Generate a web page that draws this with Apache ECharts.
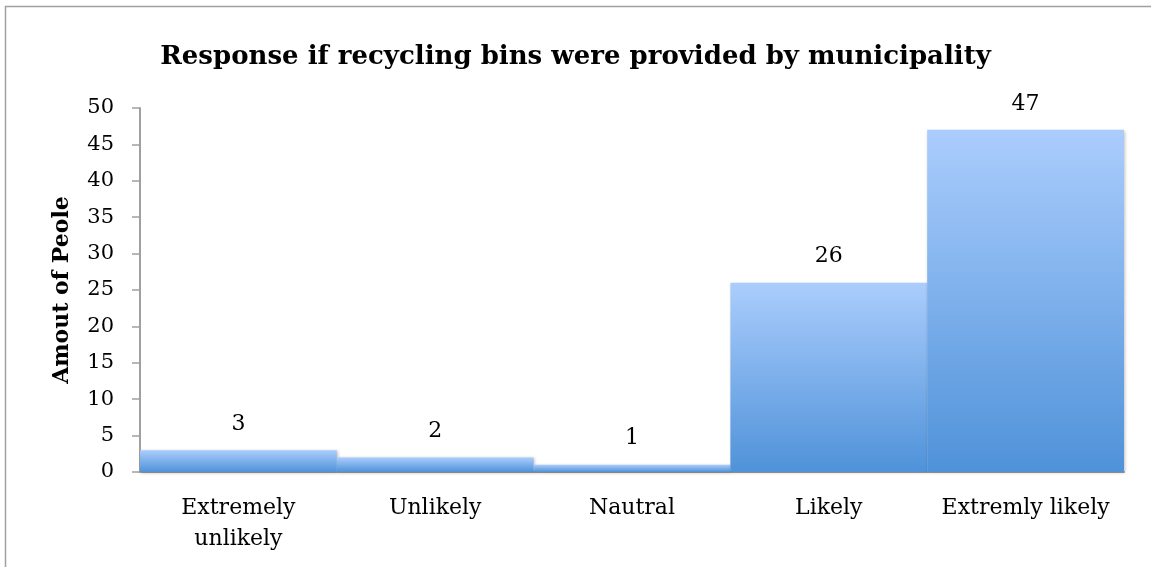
<!DOCTYPE html>
<html>
<head>
<meta charset="utf-8">
<title>Response if recycling bins were provided by municipality</title>
<script src="https://cdn.jsdelivr.net/npm/echarts@6/dist/echarts.min.js"></script>
<style>
  html, body { margin: 0; padding: 0; background: #fff; }
  #chart { width: 1151px; height: 567px; }
</style>
</head>
<body>
<div id="chart"></div>
<script>
// Survey responses
const categories = ['Extremely\nunlikely', 'Unlikely', 'Nautral', 'Likely', 'Extremly likely'];
const counts = [3, 2, 1, 26, 47];
const yTicks = { min: 0, max: 50, interval: 5 };

const FONT = '"DejaVu Serif", "Liberation Serif", serif';

const chart = echarts.init(document.getElementById('chart'), null, { renderer: 'canvas' });

chart.setOption({
  backgroundColor: '#ffffff',
  animation: false,
  graphic: [{
    type: 'rect',
    silent: true,
    shape: { x: 5.5, y: 6.5, width: 1300, height: 700 },
    style: { fill: 'none', stroke: '#a0a0a0', lineWidth: 1.5 }
  }],
  title: {
    text: 'Response if recycling bins were provided by municipality',
    left: 'center',
    top: 39,
    textStyle: { fontFamily: FONT, fontWeight: 'bold', fontSize: 26, color: '#000' }
  },
  grid: { left: 140, right: 27, top: 108, bottom: 95 },
  xAxis: {
    type: 'category',
    data: categories,
    axisLine: { lineStyle: { color: '#a0a0a0', width: 2 } },
    axisTick: { show: false },
    axisLabel: {
      fontFamily: FONT, fontSize: 22, color: '#000',
      margin: 21, lineHeight: 31, interval: 0
    }
  },
  yAxis: {
    type: 'value',
    min: yTicks.min, max: yTicks.max, interval: yTicks.interval,
    name: 'Amout of Peole',
    nameLocation: 'middle',
    nameGap: 67,
    nameTextStyle: { fontFamily: FONT, fontWeight: 'bold', fontSize: 22, color: '#000' },
    axisLine: { show: true, lineStyle: { color: '#a0a0a0', width: 2 } },
    axisTick: { show: true, length: 8, lineStyle: { color: '#a0a0a0', width: 1.5 } },
    splitLine: { show: false },
    axisLabel: { fontFamily: FONT, fontSize: 21, color: '#000', margin: 26 }
  },
  series: [{
    type: 'bar',
    data: counts,
    barCategoryGap: '0%',
    itemStyle: {
      color: new echarts.graphic.LinearGradient(0, 0, 0, 1, [
        { offset: 0, color: '#abcdfd' },
        { offset: 1, color: '#4f92d9' }
      ]),
      shadowColor: 'rgba(0,0,0,0.25)',
      shadowBlur: 3,
      shadowOffsetX: 1,
      shadowOffsetY: 1
    },
    label: {
      show: true,
      position: 'top',
      distance: 15,
      fontFamily: FONT, fontSize: 22, color: '#000'
    }
  }]
});
</script>
</body>
</html>
